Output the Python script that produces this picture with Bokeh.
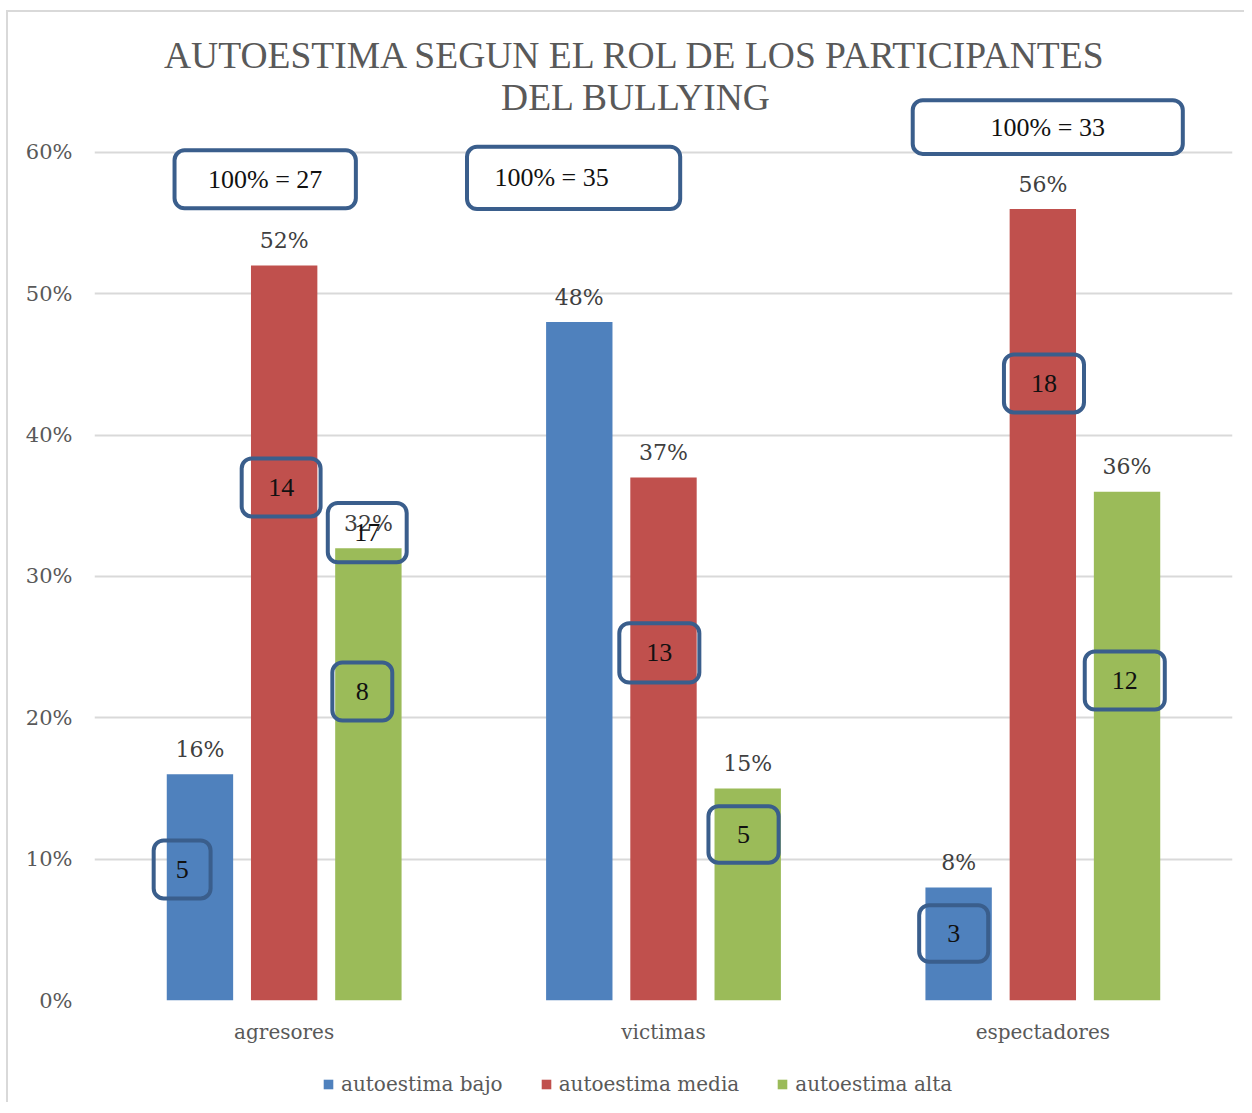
from bokeh.plotting import figure
from bokeh.layouts import column
from bokeh.models import (FactorRange, FixedTicker, Label, Legend, LegendItem,
                          ColumnDataSource, Range1d)
from bokeh.transform import dodge
from bokeh.core.properties import value
from bokeh.embed import file_html
from bokeh.resources import INLINE

# ---------------- data ----------------
categories = ["agresores", "victimas", "espectadores"]
series_names = ["autoestima bajo", "autoestima media", "autoestima alta"]
bajo = [0.16, 0.48, 0.08]
media = [0.52, 0.37, 0.56]
alta = [0.32, 0.15, 0.36]
totals = [27, 35, 33]
# counts written in the boxes (as they appear on the picture)
count_groups = ["agresores", "agresores", "agresores", "agresores",
                "victimas", "victimas", "espectadores", "espectadores", "espectadores"]
count_values = [5, 14, 17, 8, 13, 5, 3, 18, 12]
y_ticks = [0, 0.1, 0.2, 0.3, 0.4, 0.5, 0.6]
y_tick_labels = ["0%", "10%", "20%", "30%", "40%", "50%", "60%"]
title_lines = ["AUTOESTIMA SEGUN EL ROL DE LOS PARTICIPANTES", "DEL BULLYING"]

# ---------------- style / layout ----------------
colors = ["#4F81BD", "#C0504D", "#9BBB59"]
offsets = [-0.222, 0.0, 0.222]
bar_width = 0.175
box_color = "#3A5E8C"
serif_label = "DejaVu Serif"
serif_box = "Liberation Serif"

# box layout: (x offset in category units, y centre, width, height)
count_box_layout = [(-0.269, 0.0927, 0.150, 0.041),
                    (-0.008, 0.363, 0.208, 0.041),
                    (0.219, 0.331, 0.208, 0.042),
                    (0.206, 0.2186, 0.158, 0.041),
                    (-0.011, 0.246, 0.211, 0.042),
                    (0.211, 0.1175, 0.185, 0.040),
                    (-0.235, 0.0474, 0.182, 0.040),
                    (0.003, 0.4366, 0.211, 0.041),
                    (0.216, 0.2264, 0.211, 0.041)]
total_box_layout = [(-0.05, 0.581, 0.478, 0.041, -0.05),
                    (-0.237, 0.582, 0.562, 0.044, -0.295),
                    (0.013, 0.618, 0.712, 0.038, 0.013)]

p = figure(x_range=FactorRange(*categories, range_padding=0),
           y_range=Range1d(0, 0.6863),
           width=1236, height=1040,
           output_backend="svg", toolbar_location=None,
           min_border_left=86, min_border_right=12,
           min_border_top=18, min_border_bottom=52)
p.outline_line_color = None
p.background_fill_color = "white"
p.border_fill_color = "white"

source = ColumnDataSource(dict(cat=categories, bajo=bajo, media=media, alta=alta))
for key, col, off in zip(["bajo", "media", "alta"], colors, offsets):
    p.vbar(x=dodge("cat", off, range=p.x_range), top=key, width=bar_width,
           source=source, fill_color=col, line_color=None)

# value labels
for key, vals, off in zip(["bajo", "media", "alta"], [bajo, media, alta], offsets):
    lab_src = ColumnDataSource(dict(cat=categories, y=vals,
                                    t=[f"{round(v * 100)}%" for v in vals]))
    p.text(x=dodge("cat", off, range=p.x_range), y="y", text="t", source=lab_src,
           text_align="center", text_baseline="middle", y_offset=-25,
           text_font=value(serif_label), text_font_size="22px", text_color="#404040")

# count boxes
def xpos(group, off):
    return categories.index(group) + 0.5 + off

cx = [xpos(g, l[0]) for g, l in zip(count_groups, count_box_layout)]
cy = [l[1] for l in count_box_layout]
cw = [l[2] for l in count_box_layout]
ch = [l[3] for l in count_box_layout]
box_src = ColumnDataSource(dict(
    left=[x - w / 2 for x, w in zip(cx, cw)], right=[x + w / 2 for x, w in zip(cx, cw)],
    bottom=[y - h / 2 for y, h in zip(cy, ch)], top=[y + h / 2 for y, h in zip(cy, ch)],
    x=cx, y=cy, t=[str(c) for c in count_values]))
p.quad(left="left", right="right", bottom="bottom", top="top", source=box_src,
       fill_color=None, line_color=box_color, line_width=4, border_radius=10)
p.text(x="x", y="y", text="t", source=box_src, text_align="center",
       text_baseline="middle", text_font=value(serif_box), text_font_size="26px",
       text_color="#111111")

tx = [xpos(g, l[0]) for g, l in zip(categories, total_box_layout)]
ty = [l[1] for l in total_box_layout]
tw = [l[2] for l in total_box_layout]
th = [l[3] for l in total_box_layout]
tot_src = ColumnDataSource(dict(
    left=[x - w / 2 for x, w in zip(tx, tw)], right=[x + w / 2 for x, w in zip(tx, tw)],
    bottom=[y - h / 2 for y, h in zip(ty, th)], top=[y + h / 2 for y, h in zip(ty, th)],
    tx=[xpos(g, l[4]) for g, l in zip(categories, total_box_layout)], y=ty,
    t=[f"100% = {n}" for n in totals]))
p.quad(left="left", right="right", bottom="bottom", top="top", source=tot_src,
       fill_color="white", line_color=box_color, line_width=4, border_radius=10)
p.text(x="tx", y="y", text="t", source=tot_src, text_align="center",
       text_baseline="middle", text_font=value(serif_box), text_font_size="26px",
       text_color="#111111")

# title
for line, ty_ in zip(title_lines, [0.6687, 0.6389]):
    p.add_layout(Label(x=1.428, y=ty_, text=line, text_align="center",
                       text_baseline="middle", text_font=serif_box,
                       text_font_size="37.5px", text_color="#595959"))

# axes
p.yaxis.ticker = FixedTicker(ticks=y_ticks)
p.yaxis.major_label_overrides = {t: l for t, l in zip(y_ticks, y_tick_labels)}
p.yaxis.axis_line_color = None
p.yaxis.major_tick_line_color = None
p.yaxis.minor_tick_line_color = None
p.yaxis.major_tick_out = 0
p.yaxis.major_tick_in = 0
p.yaxis.major_label_standoff = 22
p.yaxis.major_label_text_font = serif_label
p.yaxis.major_label_text_font_size = "21px"
p.yaxis.major_label_text_color = "#595959"

p.xaxis.axis_line_color = None
p.xaxis.major_tick_line_color = None
p.xaxis.major_tick_out = 0
p.xaxis.major_tick_in = 0
p.xaxis.major_label_standoff = 19
p.xaxis.major_label_text_font = serif_label
p.xaxis.major_label_text_font_size = "20px"
p.xaxis.major_label_text_color = "#595959"

p.xgrid.grid_line_color = None
p.ygrid.grid_line_color = "#d9d9d9"
p.ygrid.grid_line_width = 2

# legend strip below the chart (its bars lie outside the strip's visible y range)
pl = figure(width=1236, height=50, x_range=p.x_range, y_range=Range1d(1, 2),
            output_backend="svg", toolbar_location=None, min_border=0,
            x_axis_location=None, y_axis_location=None)
pl.grid.visible = False
pl.outline_line_color = None
pl.border_fill_color = "white"
pl.background_fill_color = "white"
leg_renderers = []
for key, col, off in zip(["bajo", "media", "alta"], colors, offsets):
    leg_renderers.append(pl.vbar(x=dodge("cat", off, range=pl.x_range), top=key,
                                 width=bar_width, source=source,
                                 fill_color=col, line_color=None))
legend = Legend(items=[LegendItem(label=s, renderers=[r]) for s, r in zip(series_names, leg_renderers)],
                orientation="horizontal", location=(228, 6),
                label_text_font=serif_label, label_text_font_size="20px",
                label_text_color="#595959", glyph_width=12, glyph_height=12,
                label_standoff=7, spacing=37, margin=0, padding=5,
                border_line_color=None, background_fill_alpha=0)
pl.add_layout(legend, "center")

layout = column(p, pl, spacing=0,
                styles={"margin-left": "6px", "margin-top": "10px",
                        "border-left": "2px solid #d9d9d9",
                        "border-top": "2px solid #d9d9d9"})

open("out.html", "w").write(file_html(layout, INLINE))
